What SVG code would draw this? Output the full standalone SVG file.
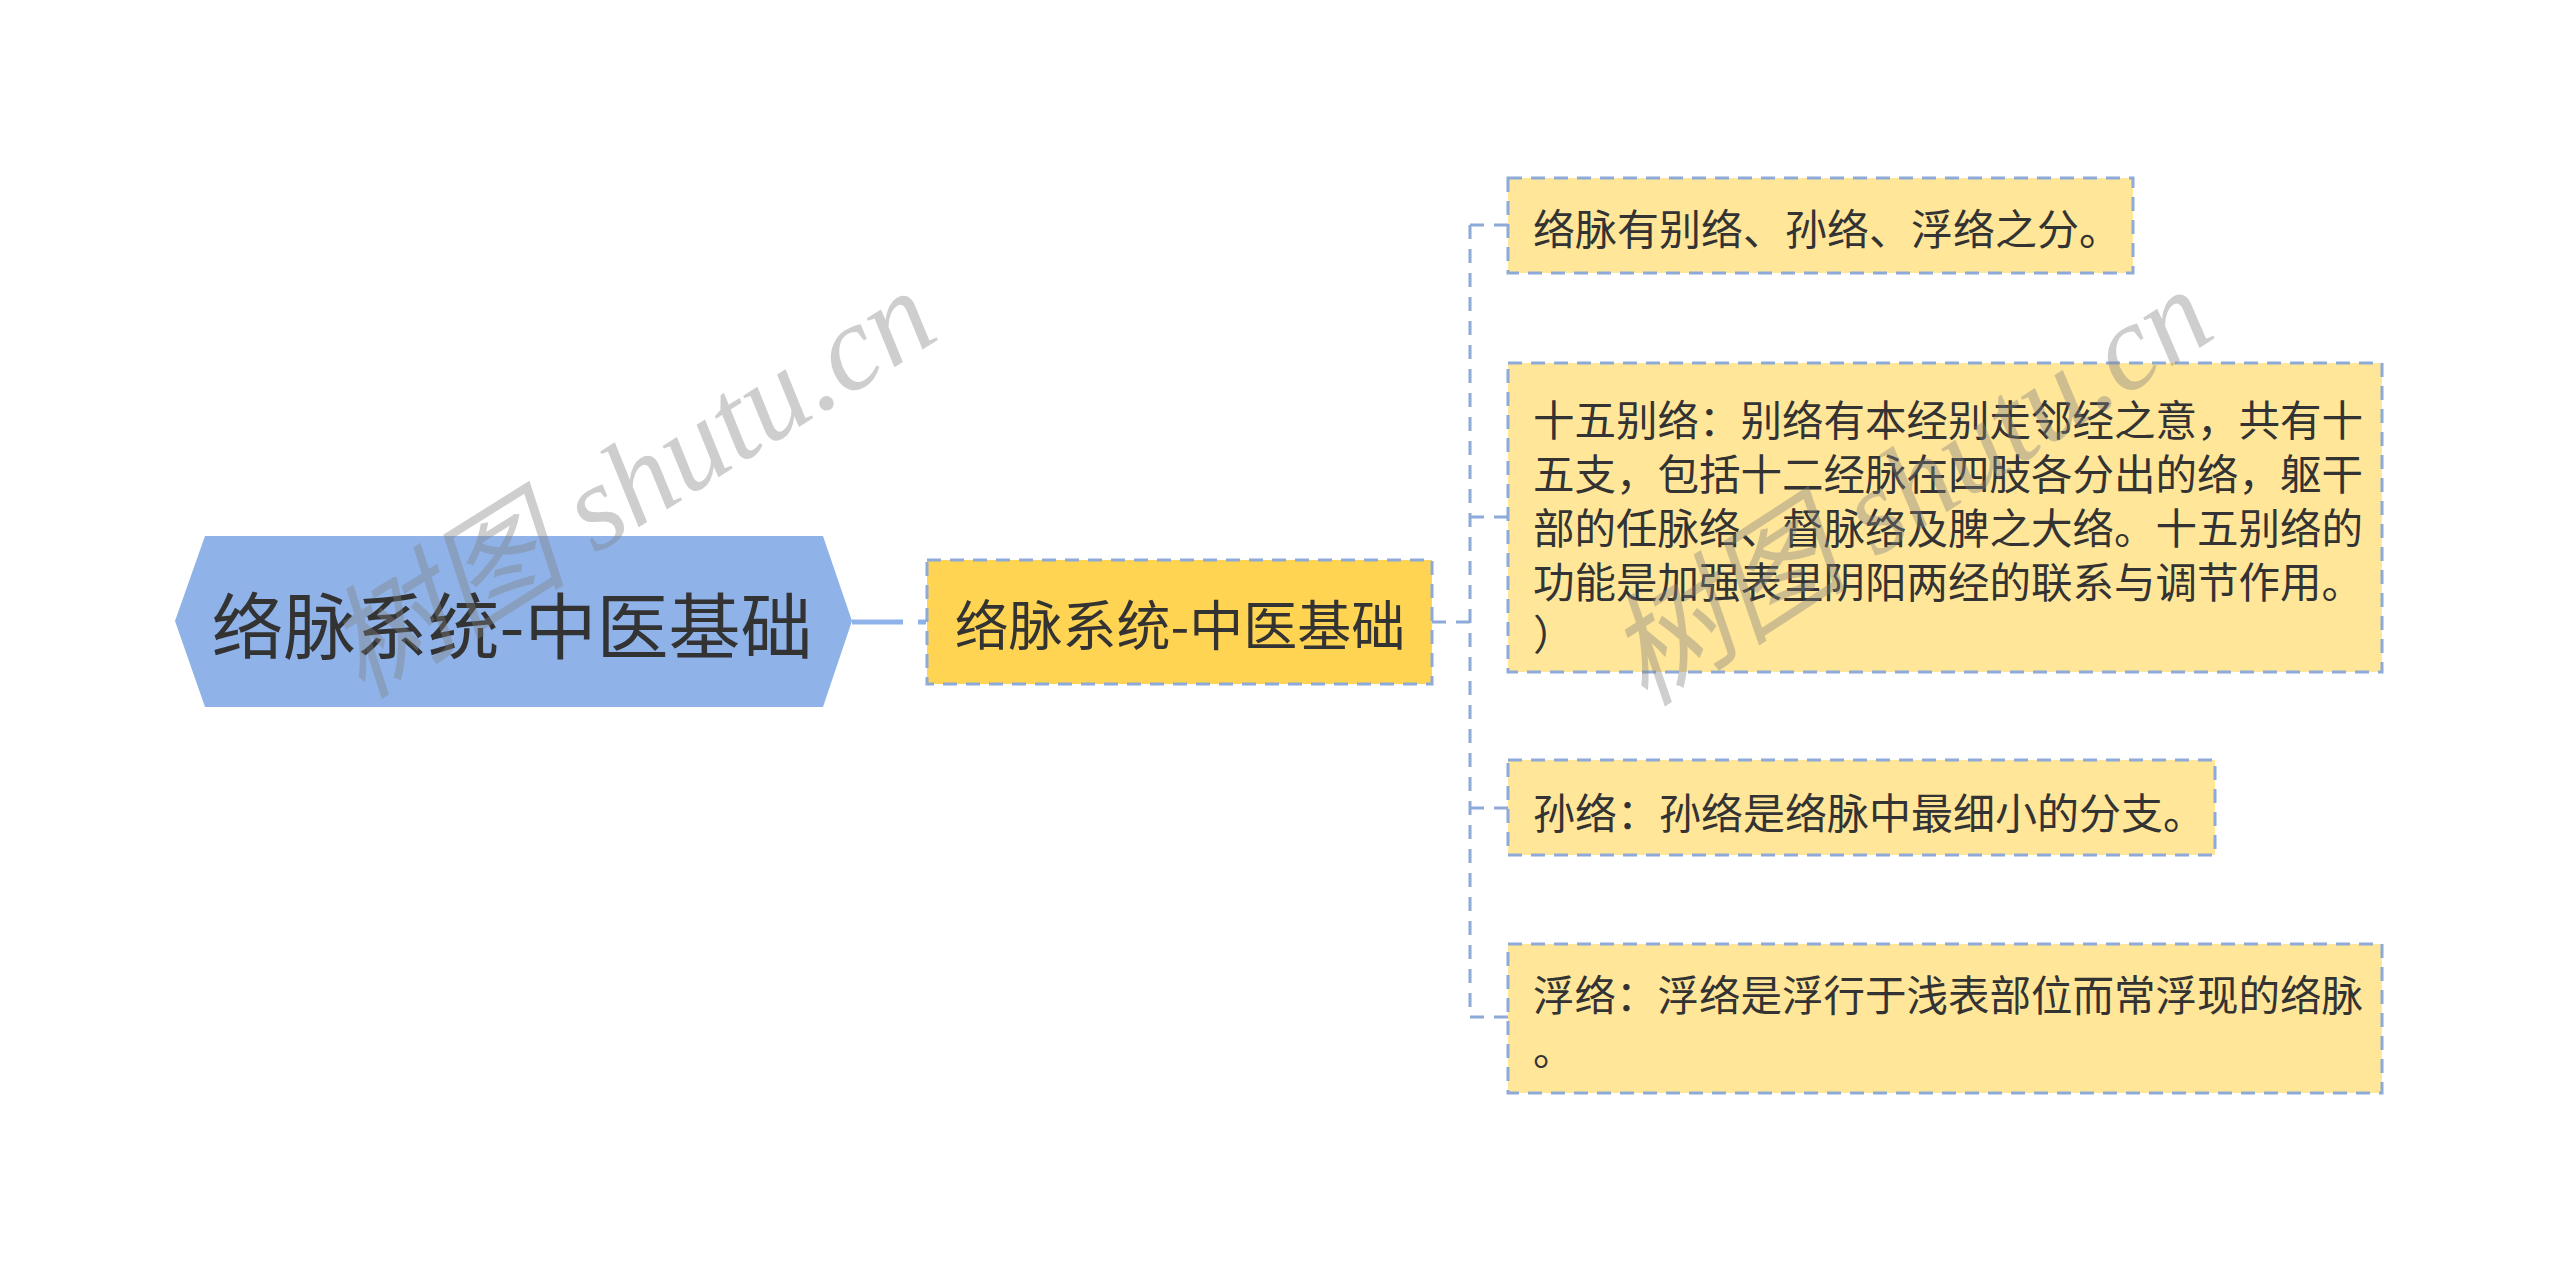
<svg xmlns="http://www.w3.org/2000/svg" width="2560" height="1271" viewBox="0 0 2560 1271">
<style>
  .t { font-family: "Noto Sans CJK SC", "Noto Sans", sans-serif; fill: #333333; dominant-baseline: central; }
  .leaf { fill: #FFE699; stroke: #8DAAD8; stroke-width: 3; stroke-dasharray: 14 9; }
  .conn { fill: none; stroke: #8DAAD8; stroke-width: 3; stroke-dasharray: 14 10; }
  .wm { font-family: "Liberation Serif", "Noto Sans CJK SC", serif; font-style: italic; font-size: 122px; fill: #808080; opacity: 0.38; }
</style>
<rect width="2560" height="1271" fill="#ffffff"/>
<g id="connectors">
  <line x1="852" y1="622" x2="926" y2="622" stroke="#8FB3E9" stroke-width="5" stroke-dasharray="51 15"/>
  <line class="conn" x1="1432" y1="622" x2="1470" y2="622"/>
  <path class="conn" d="M1470 225 V1017"/>
  <line class="conn" x1="1470" y1="225" x2="1508" y2="225"/>
  <line class="conn" x1="1470" y1="517" x2="1508" y2="517"/>
  <line class="conn" x1="1470" y1="808" x2="1508" y2="808"/>
  <line class="conn" x1="1470" y1="1017" x2="1508" y2="1017"/>
</g>
<g id="root">
  <polygon points="175,621 205,536 823,536 852,621 823,707 205,707" fill="#8FB3E9"/>
  <text class="t" x="512" y="621" font-size="72" text-anchor="middle">络脉系统-中医基础</text>
</g>
<g id="main">
  <rect x="927" y="560" width="505" height="124" fill="#FFD452" stroke="#8DAAD8" stroke-width="3" stroke-dasharray="14 9"/>
  <text class="t" x="1180" y="622" font-size="54" text-anchor="middle">络脉系统-中医基础</text>
</g>
<g id="leaf1">
  <rect class="leaf" x="1508" y="178" width="625" height="95"/>
  <text class="t" x="1533" y="226" font-size="42">络脉有别络、孙络、浮络之分。</text>
</g>
<g id="leaf2">
  <rect class="leaf" x="1508" y="363" width="874" height="309"/>
  <text class="t" font-size="41.5">
    <tspan x="1533" y="418">十五别络：别络有本经别走邻经之意，共有十</tspan>
    <tspan x="1533" y="472">五支，包括十二经脉在四肢各分出的络，躯干</tspan>
    <tspan x="1533" y="526">部的任脉络、督脉络及脾之大络。十五别络的</tspan>
    <tspan x="1533" y="580">功能是加强表里阴阳两经的联系与调节作用。</tspan>
    <tspan x="1533" y="632">）</tspan>
  </text>
</g>
<g id="leaf3">
  <rect class="leaf" x="1508" y="760" width="707" height="95"/>
  <text class="t" x="1533" y="810" font-size="42">孙络：孙络是络脉中最细小的分支。</text>
</g>
<g id="leaf4">
  <rect class="leaf" x="1508" y="944" width="874" height="149"/>
  <text class="t" font-size="41.5">
    <tspan x="1533" y="993">浮络：浮络是浮行于浅表部位而常浮现的络脉</tspan>
    <tspan x="1533" y="1047">。</tspan>
  </text>
</g>
<g id="watermarks">
  <text class="wm" x="362" y="700" transform="rotate(-32 362 700)">树图 shutu.cn</text>
  <text class="wm" x="1645" y="708" transform="rotate(-33 1645 708)">树图 shutu.cn</text>
</g>
</svg>
